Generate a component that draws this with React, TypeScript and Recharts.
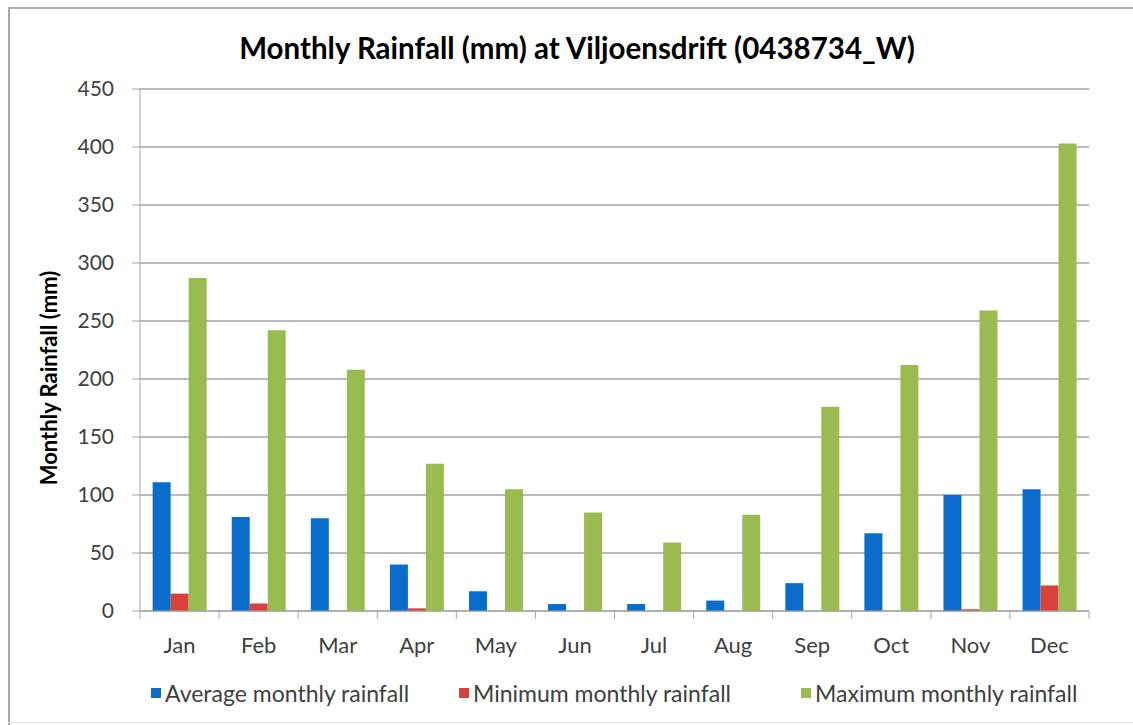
import React from "react";
import { BarChart, Bar, XAxis, YAxis, CartesianGrid } from "recharts";

const months = ["Jan", "Feb", "Mar", "Apr", "May", "Jun", "Jul", "Aug", "Sep", "Oct", "Nov", "Dec"];
const average = [111, 81, 80, 40, 17, 6, 6, 9, 24, 67, 100, 105];
const minimum = [15, 6.5, 0, 2.3, 0, 0, 0, 0, 0, 0, 1.5, 22];
const maximum = [287, 242, 208, 127, 105, 85, 59, 83, 176, 212, 259, 403];
const yTicks = [0, 50, 100, 150, 200, 250, 300, 350, 400, 450];

const series = [
  { key: "avg", name: "Average monthly rainfall", color: "#0a6dcb" },
  { key: "min", name: "Minimum monthly rainfall", color: "#d7433c" },
  { key: "max", name: "Maximum monthly rainfall", color: "#99bb4f" },
];
const legendWidths = [308, 342, 300];

const data = months.map((m, i) => ({
  month: m,
  avg: average[i],
  min: minimum[i],
  max: maximum[i],
}));

const FONT = "Lato, 'Liberation Sans', sans-serif";
const AXIS = "#a6a6a6";

// category tick: label at centre, tick marks between categories like Excel
const MonthTick = (props: any) => {
  const { x, y, payload, index } = props;
  const half = payload.offset || 0;
  const last = index === months.length - 1;
  return (
    <g>
      <line x1={x - half} x2={x - half} y1={y - 15} y2={y - 7} stroke={AXIS} />
      {last && <line x1={x + half} x2={x + half} y1={y - 15} y2={y - 7} stroke={AXIS} />}
      <text x={x} y={y + 27} textAnchor="middle" fill="#404040" fontSize={22} fontFamily={FONT}>
        {payload.value}
      </text>
    </g>
  );
};

const YTitle = (props: any) => {
  const vb = props.viewBox;
  const cx = vb.x + 48;
  const cy = vb.y + vb.height / 2 + 28;
  return (
    <text
      x={cx}
      y={cy}
      transform={`rotate(-90 ${cx} ${cy})`}
      textAnchor="middle"
      dominantBaseline="central"
      fontSize={22}
      fontWeight={700}
      fontFamily={FONT}
      fill="#000"
    >
      Monthly Rainfall (mm)
    </text>
  );
};

export default function App() {
  return (
    <div
      style={{
        position: "absolute",
        left: 0,
        top: 0,
        width: 1133,
        height: 725,
        background: "#fff",
        fontFamily: FONT,
      }}
    >
      <div style={{ position: "absolute", left: 8, top: 7, width: 1125, height: 2, background: "#b0b0b0" }} />
      <div style={{ position: "absolute", left: 8, top: 7, width: 2, height: 718, background: "#a8a8a8" }} />
      <div style={{ position: "absolute", left: 8, top: 722, width: 1125, height: 1, background: "#e4e4e4" }} />
      <div
        style={{
          position: "absolute",
          left: 0,
          top: 30,
          width: 1154,
          textAlign: "center",
          fontSize: 29.5,
          fontWeight: 700,
          color: "#000",
          lineHeight: "36px",
        }}
      >
        Monthly Rainfall (mm) at Viljoensdrift (0438734_W)
      </div>
      <BarChart
        width={1133}
        height={725}
        data={data}
        margin={{ top: 89, right: 44, bottom: 84, left: 0 }}
        barCategoryGap="16%"
        barGap={0}
      >
        <CartesianGrid horizontal vertical={false} stroke="#a3a3a3" strokeWidth={1.3} />
        <XAxis
          dataKey="month"
          axisLine={{ stroke: AXIS }}
          tickLine={false}
          tickSize={8}
          tickMargin={7}
          tick={<MonthTick />}
          interval={0}
        />
        <YAxis
          width={140}
          domain={[0, 450]}
          ticks={yTicks}
          interval={0}
          axisLine={{ stroke: AXIS }}
          tickLine={{ stroke: AXIS }}
          tickSize={8}
          tickMargin={18}
          tick={{ fill: "#404040", fontSize: 21, fontFamily: FONT }}
          label={<YTitle />}
        />
        {series.map((s) => (
          <Bar key={s.key} dataKey={s.key} name={s.name} fill={s.color} isAnimationActive={false} />
        ))}
      </BarChart>
      <div
        style={{
          position: "absolute",
          left: 151,
          top: 678,
          display: "flex",
          fontSize: 23,
          color: "#404040",
          lineHeight: "30px",
          whiteSpace: "nowrap",
        }}
      >
        {series.map((s, i) => (
          <div key={s.key} style={{ display: "flex", alignItems: "center", width: legendWidths[i] }}>
            <span style={{ width: 10, height: 10, background: s.color, marginRight: 4, display: "inline-block" }} />
            <span>{s.name}</span>
          </div>
        ))}
      </div>
    </div>
  );
}
